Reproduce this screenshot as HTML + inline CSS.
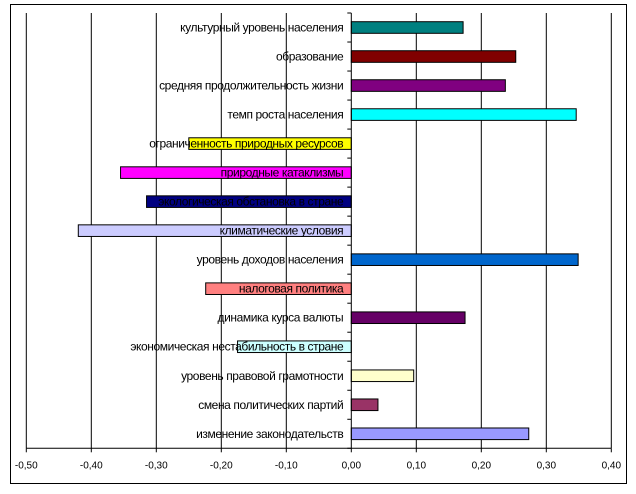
<!DOCTYPE html>
<html><head><meta charset="utf-8"><style>
body{margin:0;background:#fff;}
svg text{font-family:"Liberation Sans",sans-serif;}
</style></head><body>
<svg id="chart" width="636" height="489" xmlns="http://www.w3.org/2000/svg">
<rect x="10.5" y="4.5" width="616" height="479" fill="#fff" stroke="#000" stroke-width="1"/>
<g id="grid"></g><g id="bars"></g><g id="axes"></g>
</svg>
<script>
const categories=["культурный уровень населения","образование","средняя продолжительность жизни","темп роста населения","ограниченность природных ресурсов","природные катаклизмы","экологическая обстановка в стране","климатические условия","уровень доходов населения","налоговая политика","динамика курса валюты","экономическая нестабильность в стране","уровень правовой грамотности","смена политических партий","изменение законодательств"];
const values=[0.172,0.253,0.237,0.346,-0.25,-0.355,-0.315,-0.42,0.349,-0.224,0.175,-0.175,0.096,0.041,0.273];
const colors=["#008080","#800000","#800080","#00FFFF","#FFFF00","#FF00FF","#000080","#CCCCFF","#0066CC","#FF8080","#660066","#CCFFFF","#FFFFCC","#993366","#9999FF"];
const ticks=[-0.5,-0.4,-0.3,-0.2,-0.1,0,0.1,0.2,0.3,0.4];
const tickLabels=["-0,50","-0,40","-0,30","-0,20","-0,10","0,00","0,10","0,20","0,30","0,40"];
const NS="http://www.w3.org/2000/svg";
const topY=13,bottomY=448.3,x0=351.3,pxPer=650;
const xs=v=>x0+v*pxPer;
const band=(bottomY-topY)/categories.length;
function mk(t,a,p){const e=document.createElementNS(NS,t);for(const k in a)e.setAttribute(k,a[k]);p.appendChild(e);return e;}
const grid=document.getElementById('grid'),bars=document.getElementById('bars'),axes=document.getElementById('axes');
ticks.forEach((t,i)=>{
  const x=xs(t);
  if(t!==0){const g=mk('line',{x1:x,x2:x,y1:topY,y2:bottomY,stroke:'#000','stroke-width':1},grid);
  
  }
  const tk=mk('line',{x1:x,x2:x,y1:bottomY,y2:bottomY+4,stroke:'#000'},axes);
  
  
  const tl=mk('text',{x:x,y:bottomY+20,'font-size':10,'text-anchor':'middle',fill:'#000'},axes);
  tl.textContent=tickLabels[i];
  
  
});
const xa=mk('line',{x1:xs(-0.5),x2:xs(0.4),y1:bottomY,y2:bottomY,stroke:'#000'},axes);


const ya=mk('line',{x1:x0,x2:x0,y1:topY,y2:bottomY,stroke:'#000'},axes);


for(let k=0;k<=categories.length;k++){
  const y=topY+k*band;
  const t=mk('line',{x1:x0-4,x2:x0,y1:y,y2:y,stroke:'#000'},axes);
  
  
}
categories.forEach((c,i)=>{
  const cy=topY+(i+0.5)*band,h=band*0.4,v=values[i];
  const x1=Math.min(xs(0),xs(v)),w=Math.abs(xs(v)-xs(0));
  const r=mk('rect',{x:x1,y:cy-h/2,width:w,height:h,fill:colors[i],stroke:'#000','stroke-width':1},bars);
  
  
  const t=mk('text',{x:x0-8,y:cy+4,'font-size':12,'text-anchor':'end',fill:'#000','letter-spacing':'-0.4'},axes);
  t.textContent=c;
  
  
});
</script>
</body></html>
